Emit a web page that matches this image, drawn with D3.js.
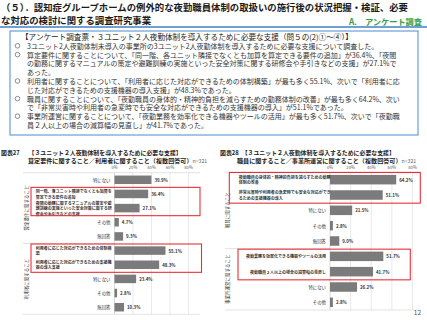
<!DOCTYPE html>
<html>
<head>
<meta charset="utf-8">
<script src="https://cdn.jsdelivr.net/npm/d3@7"></script>
<style>
body { margin: 0; background: #fff; }
svg { display: block; font-family: "Noto Sans CJK JP", "Noto Sans", sans-serif; }
</style>
</head>
<body>
<svg id="slide" width="427" height="320"></svg>
<script>
// ---- texts ----
var titleLines = [
  "（５）．認知症グループホームの例外的な夜勤職員体制の取扱いの施行後の状況把握・検証、必要",
  "な対応の検討に関する調査研究事業"
];
var sectionTag = "A.　アンケート調査";
var boxHeading = "【アンケート調査票・３ユニット２人夜勤体制を導入するために必要な支援（問５の(2)①～④）】";
var boxBullets = [true, true, false, false, true, false, true, false, true, false];
var boxLines = [
  "3ユニット2人夜勤体制未導入の事業所の3ユニット2人夜勤体制を導入するために必要な支援について調査した。",
  "算定要件に関することについて、「同一階、各ユニット隣接でなくとも加算を算定できる要件の追加」が36.4%、「夜間",
  "の勤務に関するマニュアルの策定や避難訓練の実施といった安全対策に関する研修会や手引きなどの支援」が27.1%で",
  "あった。",
  "利用者に関することについて、「利用者に応じた対応ができるための体制構築」が最も多く55.1%、次いで「利用者に応",
  "じた対応ができるための支援機器の導入支援」が48.3%であった。",
  "職員に関することについて、「夜勤職員の身体的・精神的負担を減らすための勤務体制の改善」が最も多く64.2%、次い",
  "で「非常災害時や利用者の急変時でも安全な対応ができるための支援機器の導入」が51.1%であった。",
  "事業所運営に関することについて、「夜勤業務を効率化できる機器やツールの活用」が最も多く51.7%、次いで「夜勤職",
  "員２人以上の場合の減算幅の見直し」が41.7%であった。"
];

// ---- chart 27 ----
var title27 = "図表27　　【３ユニット２人夜勤体制を導入するために必要な支援】";
var sub27 = "算定要件に関すること／利用者に関すること（複数回答可）";
var labels27 = [
  ["特にない"],
  ["同一階、各ユニット隣接でなくとも加算を", "算定できる要件の追加"],
  ["夜間の勤務に関するマニュアルの策定や避", "難訓練の実施といった安全対策に関する研", "修会や手引きなどの支援"],
  ["その他"],
  ["無回答"],
  ["利用者に応じた対応ができるための体制構", "築"],
  ["利用者に応じた対応ができるための支援機", "器の導入支援"],
  ["特にない"],
  ["その他"],
  ["無回答"]
];
var values27 = [39.9, 36.4, 27.1, 4.7, 9.3, 55.1, 48.3, 23.4, 2.8, 10.3];
var groups27 = ["算定要件に関すること", "利用者に関すること"];
var groupRows27 = [[0, 4], [5, 9]];
var marked27 = [[1, 2], [5, 6]];

// ---- chart 28 ----
var title28 = "図表28　【３ユニット２人夜勤体制を導入するために必要な支援】";
var sub28 = "職員に関すること／事業所運営に関すること（複数回答可）";
var labels28 = [
  ["夜勤職員の身体的・精神的負担を減らすための勤務", "体制の改善"],
  ["非常災害時や利用者の急変時でも安全な対応ができ", "るための支援機器の導入"],
  ["特にない"],
  ["その他"],
  ["無回答"],
  ["夜勤業務を効率化できる機器やツールの活用"],
  ["夜勤職員２人以上の場合の減算幅の見直し"],
  ["特にない"],
  ["その他"]
];
var values28 = [64.2, 51.1, 21.5, 2.8, 9.0, 51.7, 41.7, 26.2, 2.8];
var groups28 = ["職員に関すること", "事業所運営に関すること"];
var groupRows28 = [[0, 4], [5, 8]];
var marked28 = [[0, 1], [5, 6]];

var sampleSize = "n=321";
var xTicks = [0, 20, 40, 60, 80];
var pageNo = "12";

var svg = d3.select("#slide");

// ---- header ----
svg.selectAll("text.title").data(titleLines).enter().append("text")
    .attr("class", "title")
    .attr("x", 1)
    .attr("y", function(d, i) { return 7 + i * 13; })
    .attr("dominant-baseline", "central")
    .attr("font-size", 9.4)
    .attr("font-weight", "bold")
    .attr("fill", "#1a1a1a")
    .text(function(d) { return d; });

svg.append("text")
    .attr("x", 422).attr("y", 21)
    .attr("text-anchor", "end")
    .attr("dominant-baseline", "central")
    .attr("font-size", 8.2)
    .attr("font-weight", "bold")
    .attr("fill", "#2f9e41")
    .text(sectionTag);

svg.append("line")
    .attr("x1", 0).attr("x2", 427).attr("y1", 27).attr("y2", 27)
    .attr("stroke", "#3f7fc4").attr("stroke-width", 1.6);

// ---- summary box ----
svg.append("rect")
    .attr("x", 10).attr("y", 31).attr("width", 408).attr("height", 104)
    .attr("fill", "none").attr("stroke", "#4a8bd0").attr("stroke-width", 1);

svg.append("text")
    .attr("x", 21).attr("y", 36.6)
    .attr("dominant-baseline", "central")
    .attr("font-size", 7.6)
    .attr("fill", "#222")
    .text(boxHeading);

var lineY = d3.scaleLinear().domain([0, 1]).range([45.8, 54.6]);
boxLines.forEach(function(t, i) {
    if (boxBullets[i]) {
        svg.append("circle")
            .attr("cx", 17.5).attr("cy", lineY(i)).attr("r", 2.3)
            .attr("fill", "none").attr("stroke", "#444").attr("stroke-width", 0.6);
    }
    svg.append("text")
        .attr("x", 27).attr("y", lineY(i))
        .attr("dominant-baseline", "central")
        .attr("font-size", 7)
        .attr("fill", "#333")
        .text(t);
});

// ---- bar charts ----
function drawChart(o) {
    var g = svg.append("g");
    var x = d3.scaleLinear().domain([0, 80]).range(o.xRange);
    var y = d3.scaleBand().domain(d3.range(o.values.length)).range(o.yRange)
        .paddingInner(o.pad).paddingOuter(o.pad / 2);
    var rowTop = function(i) { return y(i) - y.step() * o.pad / 2; };
    var rowBottom = function(i) { return rowTop(i) + y.step(); };

    // titles
    g.append("text")
        .attr("x", o.titleX).attr("y", 152.4)
        .attr("dominant-baseline", "central")
        .attr("font-size", 5.9).attr("font-weight", "bold").attr("fill", "#222")
        .text(o.title);
    var sub = g.append("text")
        .attr("x", o.subX).attr("y", 160.2)
        .attr("dominant-baseline", "central")
        .attr("font-size", 6.1).attr("font-weight", "bold").attr("fill", "#222")
        .text(o.sub);
    sub.append("tspan").attr("font-size", 5.2).attr("font-weight", "normal")
        .attr("fill", "#666").text(sampleSize);

    // grid
    g.selectAll("line.grid").data(xTicks).enter().append("line")
        .attr("x1", x).attr("x2", x)
        .attr("y1", o.yRange[0]).attr("y2", o.yRange[1])
        .attr("stroke", function(d) { return d === 0 ? "#bfbfbf" : "#dcdcdc"; })
        .attr("stroke-width", 0.6);
    g.selectAll("text.tick").data(xTicks).enter().append("text")
        .attr("x", x).attr("y", o.tickY)
        .attr("text-anchor", "middle").attr("dominant-baseline", "central")
        .attr("font-size", 4.2).attr("fill", "#555")
        .text(function(d) { return d + "%"; });

    [o.yRange[0], o.yRange[1]].forEach(function(yy) {
        g.append("line")
            .attr("x1", o.frameX).attr("x2", o.frameRight)
            .attr("y1", yy).attr("y2", yy)
            .attr("stroke", "#d0d0d0").attr("stroke-width", 0.6);
    });
    o.groupRows.slice(1).forEach(function(r) {
        g.append("line")
            .attr("x1", o.frameX).attr("x2", x(0))
            .attr("y1", rowTop(r[0])).attr("y2", rowTop(r[0]))
            .attr("stroke", "#d0d0d0").attr("stroke-width", 0.6);
    });

    // group labels
    o.groups.forEach(function(name, k) {
        var r = o.groupRows[k];
        var cy = (rowTop(r[0]) + rowBottom(r[1])) / 2;
        g.append("text")
            .attr("transform", "translate(" + o.groupX + "," + cy + ") rotate(-90)")
            .attr("text-anchor", "middle").attr("dominant-baseline", "central")
            .attr("font-size", 4.5).attr("fill", "#333")
            .text(name);
    });

    // bars
    g.selectAll("rect.bar").data(o.values).enter().append("rect")
        .attr("x", x(0))
        .attr("y", function(d, i) { return y(i); })
        .attr("width", function(d) { return x(d) - x(0); })
        .attr("height", y.bandwidth())
        .attr("fill", "#7b7b7b");

    g.selectAll("text.val").data(o.values).enter().append("text")
        .attr("x", function(d) { return x(d) + 3; })
        .attr("y", function(d, i) { return y(i) + y.bandwidth() / 2; })
        .attr("dominant-baseline", "central")
        .attr("font-size", 4.4).attr("font-weight", "bold").attr("fill", "#333")
        .text(function(d) { return d3.format(".1f")(d) + "%"; });

    // category labels
    o.labels.forEach(function(lines, i) {
        var cy = y(i) + y.bandwidth() / 2;
        var multi = lines.length > 1;
        var t = g.append("text")
            .attr("text-anchor", multi ? "start" : "end")
            .attr("font-size", multi || lines[0].length > 6 ? 4 : 4.4)
            .attr("font-weight", multi || lines[0].length > 6 ? "bold" : "normal")
            .attr("fill", "#333");
        lines.forEach(function(s, j) {
            t.append("tspan")
                .attr("x", multi ? o.multiX : x(0) - 4)
                .attr("y", cy + (j - (lines.length - 1) / 2) * 5.4)
                .attr("dominant-baseline", "central")
                .text(s);
        });
    });

    // highlight boxes
    o.marked.forEach(function(m, k) {
        var b = o.boxes[k];
        g.append("rect")
            .attr("x", b[0]).attr("width", b[1] - b[0])
            .attr("y", rowTop(m[0]) + 0.5)
            .attr("height", rowBottom(m[1]) - rowTop(m[0]))
            .attr("fill", "none").attr("stroke", "#e8303a").attr("stroke-width", 1.1);
    });
}

drawChart({
    title: title27, sub: sub27, titleX: 1, subX: 28,
    labels: labels27, values: values27, groups: groups27, groupRows: groupRows27, marked: marked27,
    xRange: [114.5, 188.5], yRange: [172.7, 314.3], pad: 0.4, tickY: 166.9,
    frameX: 23, frameRight: 200, groupX: 26, multiX: 35.7,
    boxes: [[31, 200], [31, 201.5]]
});

drawChart({
    title: title28, sub: sub28, titleX: 220, subX: 237,
    labels: labels28, values: values28, groups: groups28, groupRows: groupRows28, marked: marked28,
    xRange: [330, 412.5], yRange: [172, 310], pad: 0.38, tickY: 166.5,
    frameX: 225, frameRight: 421, groupX: 227, multiX: 238.7,
    boxes: [[229.3, 420.3], [238, 410.3]]
});

svg.append("text")
    .attr("x", 421).attr("y", 312)
    .attr("text-anchor", "end").attr("dominant-baseline", "central")
    .attr("font-size", 6.5).attr("fill", "#555")
    .text(pageNo);
</script>
</body>
</html>
